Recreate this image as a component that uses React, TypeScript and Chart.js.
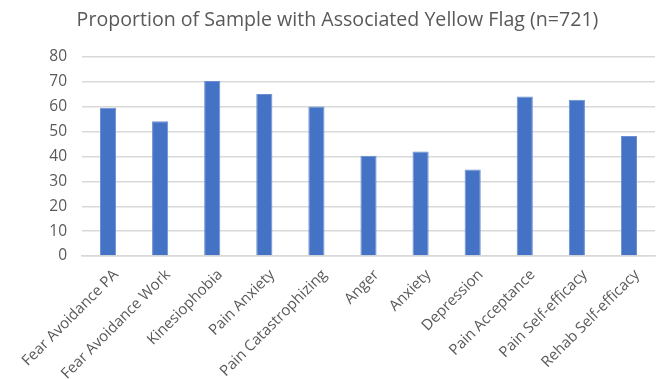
import React, { useEffect, useRef } from "react";
import { Chart, registerables } from "chart.js";

Chart.register(...registerables);

const categories: string[] = [
  "Fear Avoidance PA",
  "Fear Avoidance Work",
  "Kinesiophobia",
  "Pain Anxiety",
  "Pain Catastrophizing",
  "Anger",
  "Anxiety",
  "Depression",
  "Pain Acceptance",
  "Pain Self-efficacy",
  "Rehab Self-efficacy",
];

const proportions: number[] = [59.6, 54.2, 70.4, 65.1, 60.1, 40.3, 42.0, 34.8, 64.1, 62.8, 48.2];

const yTicks: number[] = [0, 10, 20, 30, 40, 50, 60, 70, 80];

const titleText = "Proportion of Sample with Associated Yellow Flag (n=721)";

const FONT = "'Open Sans', 'Noto Sans', sans-serif";
const TEXT_COLOR = "#595959";

export default function App() {
  const canvasRef = useRef<HTMLCanvasElement | null>(null);

  useEffect(() => {
    document.body.style.margin = "0";
    const canvas = canvasRef.current;
    if (!canvas) return;
    const chart = new Chart(canvas, {
      type: "bar",
      data: {
        labels: categories,
        datasets: [
          {
            data: proportions,
            backgroundColor: "#4472C4",
            borderColor: "#6b8fd0",
            borderWidth: 1,
            barPercentage: 0.62,
            categoryPercentage: 0.5,
          },
        ],
      },
      options: {
        animation: false,
        responsive: false,
        maintainAspectRatio: false,
        layout: { padding: { left: 20, right: 2, top: 0, bottom: 0 } },
        plugins: {
          legend: { display: false },
          tooltip: { enabled: false },
          title: {
            display: true,
            text: titleText,
            color: TEXT_COLOR,
            font: { family: FONT, size: 19.6, weight: "normal", lineHeight: 1.2 },
            padding: { top: 9, bottom: 24.5 },
          },
        },
        scales: {
          x: {
            grid: { display: false, drawTicks: false },
            border: { display: true, color: "#d9d9d9", width: 1.5 },
            afterFit: (axis: any) => {
              axis.height = 123;
            },
            ticks: {
              color: TEXT_COLOR,
              font: { family: FONT, size: 15 },
              maxRotation: 45,
              minRotation: 45,
              autoSkip: false,
              padding: 10,
              labelOffset: 8,
            },
          },
          y: {
            min: yTicks[0],
            max: yTicks[yTicks.length - 1],
            afterBuildTicks: (axis: any) => {
              axis.ticks = yTicks.map((v) => ({ value: v }));
            },
            afterFit: (axis: any) => {
              axis.width = 62;
            },
            grid: { color: "#d9d9d9", lineWidth: 1.5, drawTicks: false },
            border: { display: false },
            ticks: {
              color: TEXT_COLOR,
              font: { family: FONT, size: 15.5 },
              padding: 15,
            },
          },
        },
      },
    });
    return () => chart.destroy();
  }, []);

  return (
    <div style={{ position: "fixed", left: 0, top: 0, width: 657, height: 379, background: "#fff" }}>
      <canvas ref={canvasRef} width={657} height={379} style={{ width: 657, height: 379 }} />
    </div>
  );
}
